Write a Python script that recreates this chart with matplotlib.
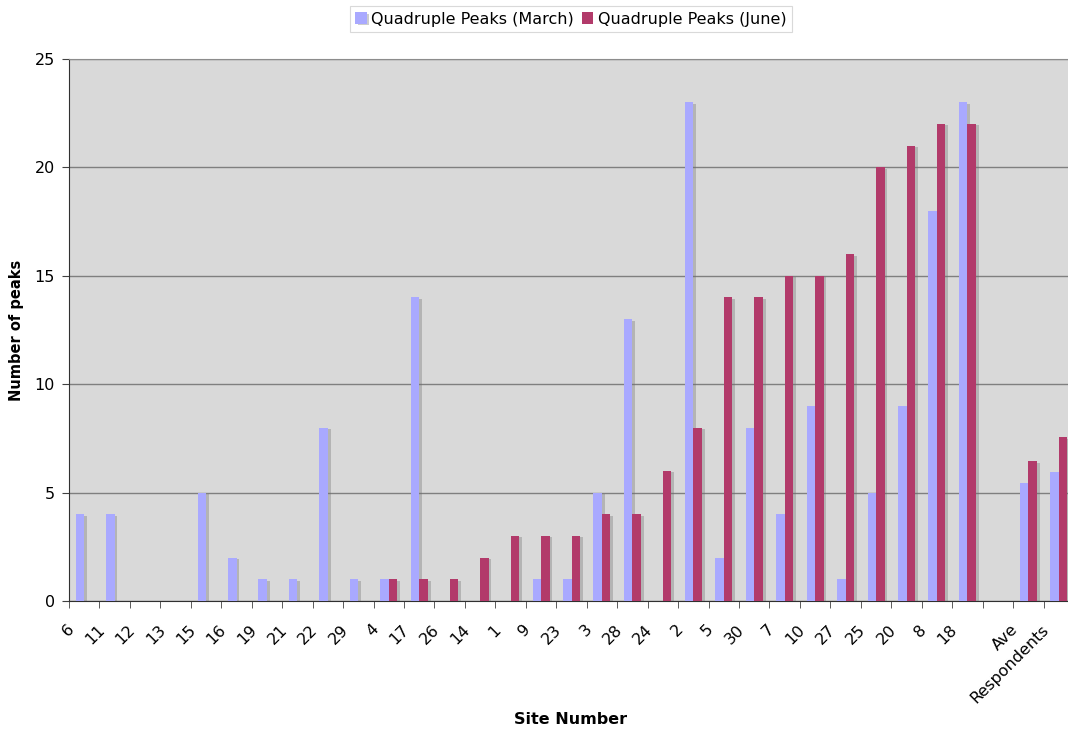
import numpy as np
import matplotlib
matplotlib.use("Agg")
import matplotlib.pyplot as plt
import matplotlib.patheffects as pe

# Site order as plotted, plus a spacer and the two summary groups
SITES = ['6', '11', '12', '13', '15', '16', '19', '21', '22', '29', '4', '17',
         '26', '14', '1', '9', '23', '3', '28', '24', '2', '5', '30', '7',
         '10', '27', '25', '20', '8', '18', '', 'Ave', 'Respondents']

MARCH = [4, 4, 0, 0, 5, 2, 1, 1, 8, 1, 1, 14,
         0, 0, 0, 1, 1, 5, 13, 0, 23, 2, 8, 4,
         9, 1, 5, 9, 18, 23, 0, 5.45, 5.95]
JUNE = [0, 0, 0, 0, 0, 0, 0, 0, 0, 0, 1, 1,
        1, 2, 3, 3, 3, 4, 4, 6, 8, 14, 14, 15,
        15, 16, 20, 21, 22, 22, 0, 6.45, 7.55]

MARCH_COLOR = '#a9a9ff'
JUNE_COLOR = '#b23a6a'
BAR_W = 0.28

W, H = 1068, 731
fig = plt.figure(figsize=(W / 100, H / 100), dpi=100)
plt.rcParams['font.family'] = ['DejaVu Sans']

# axes box in pixels: left edge 69, bottom 601, top 59, runs past the right edge
ax = fig.add_axes([69 / W, (H - 601) / H, 1005 / W, (601 - 59) / H])
ax.set_facecolor('#d9d9d9')

x = np.arange(len(SITES))
shadow = [pe.SimplePatchShadow(offset=(2, -1), shadow_rgbFace='#707070', alpha=0.35), pe.Normal()]
b1 = ax.bar(x - BAR_W / 2, MARCH, BAR_W, color=MARCH_COLOR, label='Quadruple Peaks (March)', zorder=3)
b2 = ax.bar(x + BAR_W / 2, JUNE, BAR_W, color=JUNE_COLOR, label='Quadruple Peaks (June)', zorder=3)
for bars in (b1, b2):
    for p in bars:
        if p.get_height() > 0:
            p.set_path_effects(shadow)

ax.set_xlim(-0.5, len(SITES) - 0.5)
ax.set_ylim(0, 25)
ax.set_yticks([0, 5, 10, 15, 20, 25])
ax.yaxis.grid(True, color='#7f7f7f', linewidth=1, zorder=1)
ax.set_axisbelow(True)

# labels sit a little left of the group centre, boundary ticks as minor ticks
ax.set_xticks(x - 0.24)
ax.set_xticklabels(SITES, rotation=45, ha='right', va='top', fontsize=11.5)
ax.tick_params(axis='x', which='major', length=0, pad=15)
ax.set_xticks(np.arange(len(SITES)) - 0.5, minor=True)
ax.tick_params(axis='x', which='minor', length=5, color='#404040')
ax.tick_params(axis='y', labelsize=11.5, length=5, color='#404040', pad=5)

for s in ('left', 'bottom'):
    ax.spines[s].set_color('#303030')
ax.spines['top'].set_color('#8c8c8c')
ax.spines['right'].set_visible(False)

ax.set_ylabel('Number of peaks', fontsize=10.5, fontweight='bold', labelpad=8)
fig.text(571 / W, 1 - 720 / H, 'Site Number', ha='center', va='center',
         fontsize=11.5, fontweight='bold')

leg = fig.legend(handles=[b1, b2], loc='upper center', bbox_to_anchor=(571 / W, 1 - 6 / H),
                 ncol=2, fontsize=11.5, frameon=True, fancybox=False, edgecolor='#d0d0d0',
                 handlelength=0.7, handleheight=0.7, handletextpad=0.3,
                 columnspacing=0.5, borderpad=0.35, borderaxespad=0)
leg.get_frame().set_linewidth(0.8)

fig.savefig('out.png', dpi=100)
